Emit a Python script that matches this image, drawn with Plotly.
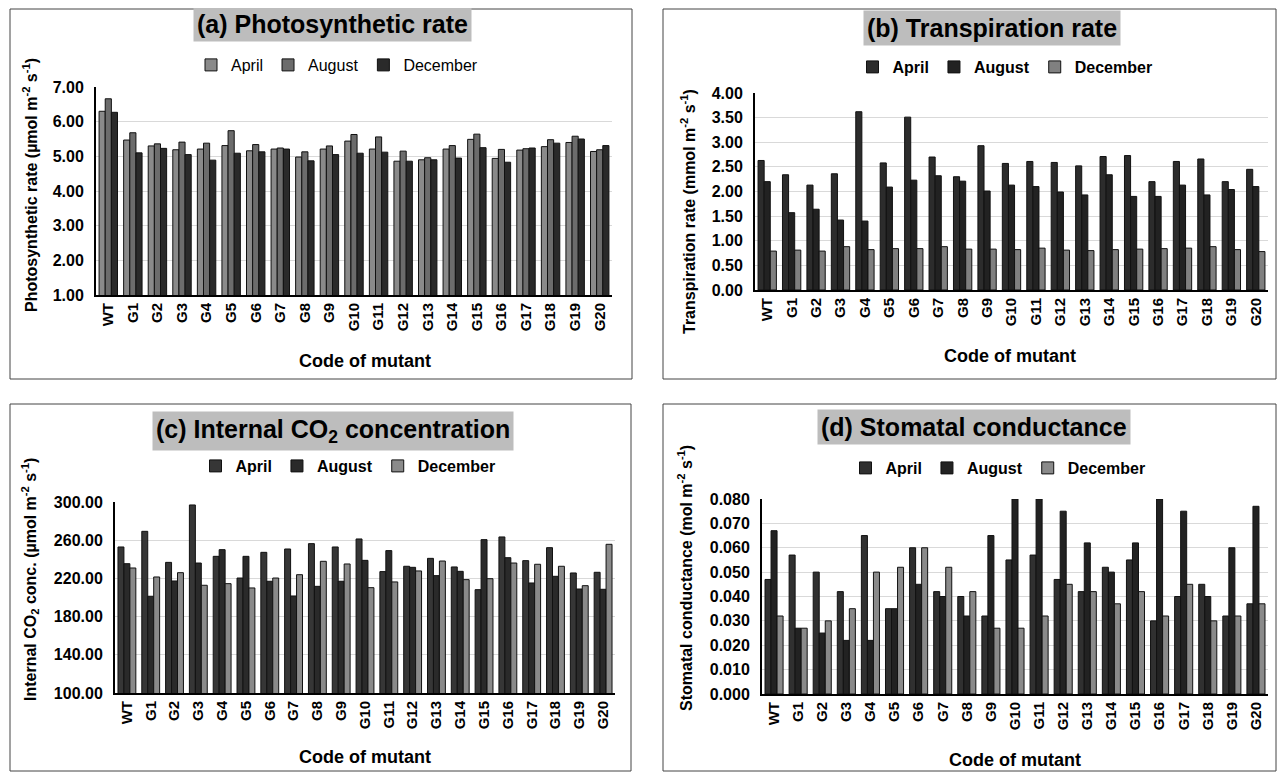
import plotly.graph_objects as go

# The page has an 8px body margin, so the figure is sized to fit inside the window.
OFF = 8
W, H = 1285 - 2 * OFF, 780 - 2 * OFF

codes = ["WT"] + [f"G{i}" for i in range(1, 21)]
months = ["April", "August", "December"]

# (a) Photosynthetic rate
photo_apr = [6.30, 5.47, 5.30, 5.19, 5.21, 5.31, 5.16, 5.21, 4.98, 5.21, 5.44, 5.21, 4.86, 4.90, 5.21, 5.49, 4.94, 5.18, 5.28, 5.40, 5.14]
photo_aug = [6.66, 5.68, 5.36, 5.41, 5.38, 5.74, 5.34, 5.24, 5.13, 5.30, 5.63, 5.56, 5.15, 4.96, 5.31, 5.64, 5.20, 5.22, 5.48, 5.58, 5.19]
photo_dec = [6.27, 5.10, 5.23, 5.05, 4.89, 5.09, 5.13, 5.21, 4.87, 5.05, 5.09, 5.12, 4.86, 4.90, 4.95, 5.25, 4.83, 5.24, 5.38, 5.50, 5.31]

# (b) Transpiration rate
trans_apr = [2.63, 2.34, 2.13, 2.36, 3.62, 2.58, 3.51, 2.70, 2.30, 2.93, 2.57, 2.61, 2.59, 2.52, 2.71, 2.73, 2.20, 2.61, 2.66, 2.20, 2.45]
trans_aug = [2.20, 1.57, 1.64, 1.42, 1.40, 2.09, 2.23, 2.32, 2.21, 2.01, 2.13, 2.10, 1.99, 1.93, 2.34, 1.90, 1.90, 2.13, 1.93, 2.04, 2.10]
trans_dec = [0.79, 0.81, 0.79, 0.88, 0.82, 0.84, 0.84, 0.88, 0.83, 0.83, 0.82, 0.85, 0.81, 0.80, 0.82, 0.83, 0.84, 0.85, 0.88, 0.82, 0.78]

# (c) Internal CO2 concentration
ci_apr = [252.9, 269.3, 236.8, 296.9, 243.1, 220.4, 247.3, 250.8, 256.4, 252.9, 261.3, 227.1, 232.7, 241.0, 232.0, 208.2, 263.4, 238.6, 252.2, 225.7, 226.4]
ci_aug = [235.4, 201.3, 217.3, 236.1, 250.1, 243.1, 217.0, 201.6, 211.7, 217.0, 238.9, 249.1, 231.6, 222.9, 227.4, 260.6, 241.7, 215.2, 222.2, 208.9, 208.6]
ci_dec = [230.9, 221.5, 226.0, 212.8, 214.5, 210.0, 220.4, 223.9, 237.9, 235.1, 210.3, 216.3, 227.8, 238.2, 218.7, 219.7, 236.1, 234.8, 232.7, 212.4, 255.7]

# (d) Stomatal conductance
gs_apr = [0.047, 0.057, 0.050, 0.042, 0.065, 0.035, 0.060, 0.042, 0.040, 0.032, 0.055, 0.057, 0.047, 0.042, 0.052, 0.055, 0.030, 0.040, 0.045, 0.032, 0.037]
gs_aug = [0.067, 0.027, 0.025, 0.022, 0.022, 0.035, 0.045, 0.040, 0.032, 0.065, 0.080, 0.080, 0.075, 0.062, 0.050, 0.062, 0.080, 0.075, 0.040, 0.060, 0.077]
gs_dec = [0.032, 0.027, 0.030, 0.035, 0.050, 0.052, 0.060, 0.052, 0.042, 0.027, 0.027, 0.032, 0.045, 0.042, 0.037, 0.042, 0.032, 0.045, 0.030, 0.032, 0.037]

FONT = "Liberation Sans, Arial, sans-serif"


def px_x(v):
    return min(max((v - OFF) / W, 0), 1)


def px_y(v):
    return min(max(1 - (v - OFF) / H, 0), 1)


panels = [
    dict(ax="", leg="legend", data=[photo_apr, photo_aug, photo_dec],
         colors=["#8a8a8a", "#6c6c6c", "#2a2a2a"],
         xd=(96, 612), yd=(295, 87), rng=[1, 7], dtick=1, tick0=1, fmt=".2f",
         legpos=(337, 65), legbold=False),
    dict(ax="2", leg="legend2", data=[trans_apr, trans_aug, trans_dec],
         colors=["#2c2c2c", "#222222", "#808080"],
         xd=(755, 1268), yd=(290, 93), rng=[0, 4], dtick=0.5, tick0=0, fmt=".2f",
         legpos=(1005, 67), legbold=True),
    dict(ax="3", leg="legend3", data=[ci_apr, ci_aug, ci_dec],
         colors=["#363636", "#2a2a2a", "#8a8a8a"],
         xd=(115, 615), yd=(693, 502), rng=[100, 300], dtick=40, tick0=100, fmt=".2f",
         legpos=(348, 466), legbold=True),
    dict(ax="4", leg="legend4", data=[gs_apr, gs_aug, gs_dec],
         colors=["#303030", "#222222", "#8a8a8a"],
         xd=(762, 1268), yd=(694, 499), rng=[0, 0.08], dtick=0.01, tick0=0, fmt=".3f",
         legpos=(998, 468), legbold=True),
]

fig = go.Figure()
layout = {}
for p in panels:
    for m, vals, col in zip(months, p["data"], p["colors"]):
        fig.add_trace(go.Bar(
            x=codes, y=vals, name=m,
            marker=dict(color=col, line=dict(color="#111111", width=1)),
            xaxis="x" + p["ax"], yaxis="y" + p["ax"], legend=p["leg"],
        ))
    layout["xaxis" + p["ax"]] = dict(
        domain=[px_x(p["xd"][0]), px_x(p["xd"][1])], anchor="y" + p["ax"],
        type="category", tickangle=-90, showline=True, linecolor="black", linewidth=2,
        ticks="", tickfont=dict(family=FONT, size=15, color="black", weight="bold"),
        showgrid=False,
    )
    layout["yaxis" + p["ax"]] = dict(
        domain=[px_y(p["yd"][0]), px_y(p["yd"][1])], anchor="x" + p["ax"],
        range=p["rng"], dtick=p["dtick"], tick0=p["tick0"], tickformat=p["fmt"],
        showline=True, linecolor="black", linewidth=2, gridcolor="#d9d9d9",
        gridwidth=1, zeroline=False, ticks="", ticklabelstandoff=7,
        tickfont=dict(family=FONT, size=16, color="black", weight="bold"),
    )
    layout[p["leg"]] = dict(
        orientation="h", x=px_x(p["legpos"][0]), y=px_y(p["legpos"][1]),
        xanchor="center", yanchor="middle", bgcolor="rgba(0,0,0,0)",
        font=dict(family=FONT, size=16, color="black",
                  weight="bold" if p["legbold"] else "normal"),
        itemwidth=30, traceorder="normal",
    )

annotations = []
titles = [
    ("(a) Photosynthetic rate", 332, 24),
    ("(b) Transpiration rate", 992, 28),
    ("(c) Internal CO<sub>2</sub> concentration", 333, 431),
    ("(d) Stomatal conductance", 974, 427),
]
for t, cx, cy in titles:
    annotations.append(dict(
        text=f"<b>{t}</b>", x=px_x(cx), y=px_y(cy), xref="paper", yref="paper",
        showarrow=False, bgcolor="#bdbdbd", borderpad=3,
        font=dict(family=FONT, size=25, color="black"),
        xanchor="center", yanchor="middle",
    ))

ytitles = [
    ("Photosynthetic rate (µmol m<sup>-2</sup> s<sup>-1</sup>)", 30, 185),
    ("Transpiration rate (mmol m<sup>-2</sup> s<sup>-1</sup>)", 688, 212),
    ("Internal CO<sub>2</sub> conc. (µmol m<sup>-2</sup> s<sup>-1</sup>)", 30, 580),
    ("Stomatal conductance (mol m<sup>-2</sup> s<sup>-1</sup>)", 685, 578),
]
for t, cx, cy in ytitles:
    annotations.append(dict(
        text=f"<b>{t}</b>", x=px_x(cx), y=px_y(cy), xref="paper", yref="paper",
        showarrow=False, textangle=-90, font=dict(family=FONT, size=16, color="black"),
        xanchor="center", yanchor="middle",
    ))

xtitles = [(365, 361), (1010, 356), (365, 757), (1015, 760)]
for cx, cy in xtitles:
    annotations.append(dict(
        text="<b>Code of mutant</b>", x=px_x(cx), y=px_y(cy), xref="paper", yref="paper",
        showarrow=False, font=dict(family=FONT, size=18, color="black"),
        xanchor="center", yanchor="middle",
    ))

shapes = []
for x0, x1, y0, y1 in [(10, 632, 9, 379), (663, 1276, 9, 379),
                       (10, 631, 404, 771), (663, 1276, 404, 771)]:
    shapes.append(dict(type="rect", xref="paper", yref="paper",
                       x0=px_x(x0), x1=px_x(x1), y0=px_y(y1), y1=px_y(y0),
                       line=dict(color="#444444", width=1), fillcolor="rgba(0,0,0,0)"))

fig.update_layout(
    width=W, height=H, margin=dict(l=0, r=0, t=0, b=0, autoexpand=False),
    paper_bgcolor="white", plot_bgcolor="white",
    barmode="group", bargap=0.25, bargroupgap=0,
    annotations=annotations, shapes=shapes, **layout,
)

fig.write_html("out.html")
